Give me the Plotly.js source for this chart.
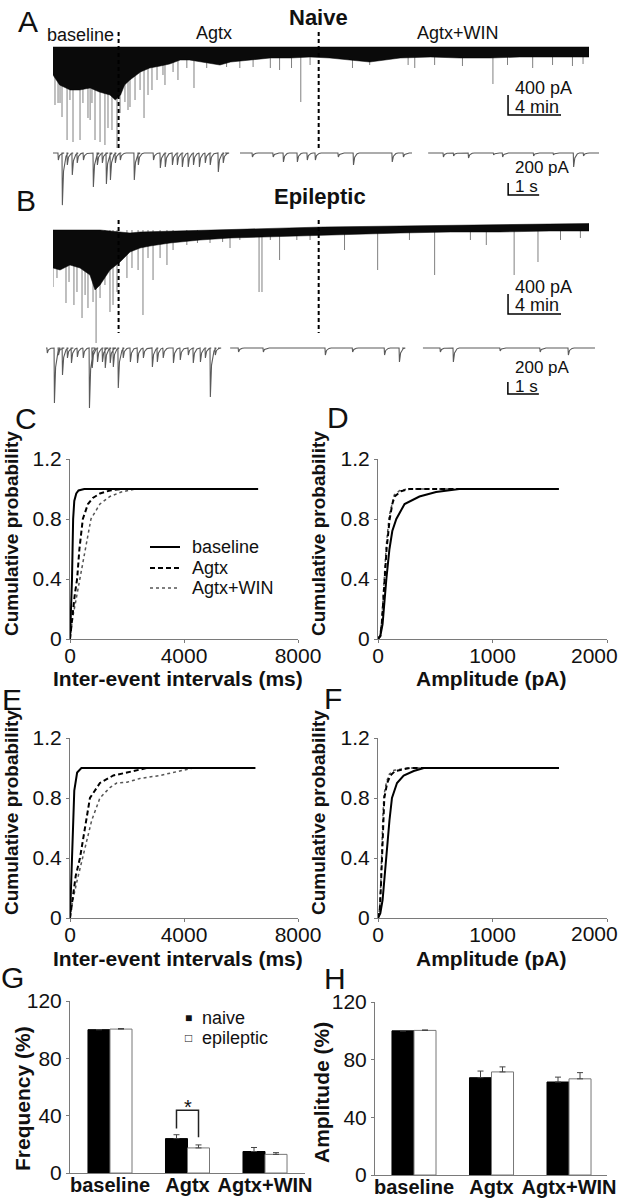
<!DOCTYPE html>
<html><head><meta charset="utf-8">
<script src="https://cdn.plot.ly/plotly-3.0.1.min.js"></script>
<style>html,body{margin:0;padding:0;background:#fff}</style>
</head><body><div id="fig" style="width:621px;height:1201px"></div>
<script>
// ---------------- DATA ----------------
// Panel A (naive) long recording: time (min), current (pA)
const A_band_t = [0,0.5,1.3,2.0,2.8,3.5,4.3,4.7,5.1,5.4,5.8,6.6,7.3,8.1,8.8,9.6,10.3,11.1,11.8,12.6,13.4,14.9,16.4,17.9,19.4,20.9,22.4,23.9,26.2,28.5,30.7,33.0,35.2,37.5,40.45];
const A_top    = [0,0,0,0,0,0,0,0,0,0,0,0,0,0,0,0,0,0,0,0,0,0,0,0,0,0,0,0,0,0,0,0,0,0,0];
const A_band   = [-560,-760,-860,-860,-820,-900,-960,-1060,-960,-760,-660,-500,-420,-380,-340,-260,-260,-300,-320,-360,-300,-260,-220,-220,-200,-220,-260,-300,-220,-200,-220,-220,-200,-200,-200];
const A_spike_t = [0.15,0.38,0.53,0.68,1.06,1.28,1.51,2.04,2.26,2.64,2.8,2.94,3.17,3.55,3.92,4.15,4.45,4.83,5.06,5.43,5.66,5.81,6.19,6.57,6.87,7.17,7.47,7.85,8.3,8.45,9.06,9.43,10.1,10.64,11.6,13.1,14.1,15.1,16.4,17.1,18.0,18.7,19.4,22.6,23.9,26.8,27.3,28.8,30.9,33.2,34.3,36.2,37.7,39.2,40.0];
const A_spike   = [-1160,-1120,-1120,-1400,-1860,-1060,-1900,-1860,-1120,-1420,-1460,-1120,-1860,-1900,-1960,-1620,-1660,-2020,-1320,-1100,-1260,-1200,-1060,-860,-1420,-960,-860,-660,-560,-760,-500,-660,-420,-820,-420,-400,-420,-400,-420,-460,-420,-1100,-360,-420,-360,-360,-420,-360,-380,-740,-360,-420,-360,-380,-340];
// Panel B (epileptic) long recording
const B_top_t = [0,3.55,4.3,5.06,5.81,6.57,9.58,13.36,20.4,26.2,33.7,40.45];
const B_top   = [0,0,-20,-40,-60,-40,-20,20,60,80,110,130];
const B_band_t = [0,0.53,1.28,2.04,2.79,3.17,3.55,4.3,5.06,5.81,6.57,7.32,8.83,11.09,13.36,15.6,18.6,20.9,26.2,30.0,33.7,37.5,40.45];
const B_band   = [-760,-800,-700,-760,-900,-1200,-1100,-800,-640,-440,-360,-320,-260,-200,-160,-140,-120,-100,-60,-40,-40,-20,-20];
const B_spike_t = [0,0.3,0.98,1.21,1.58,1.81,2.19,2.42,2.64,3.02,3.25,3.55,3.92,4.3,4.53,4.83,5.58,5.96,6.42,6.79,7.17,7.55,8.08,8.6,9.06,10.1,10.9,11.85,12.8,13.36,14.1,15.55,15.77,16.4,17.1,18.4,19.4,22.0,24.5,26.9,28.8,31.5,32.7,34.8,36.6,38.3,39.8];
const B_spike   = [-1140,-960,-1460,-1040,-1500,-1240,-1760,-1300,-1560,-1440,-2260,-1360,-1100,-1640,-1500,-1240,-960,-760,-800,-1700,-560,-1000,-560,-700,-400,-300,-260,-260,-240,-360,-200,-1240,-1240,-200,-600,-200,-200,-400,-800,-200,-900,-200,-300,-900,-640,-200,-160];
const drugTimes = [4.95, 20.05];          // min: Agtx, Agtx+WIN applied
const phaseLabels = ['baseline','Agtx','Agtx+WIN'];
// Expanded sweeps (s, pA) for each condition
const sA1_t = [0.16,0.29,0.45,0.61,0.77,0.97,1.29,1.42,1.58,1.71,1.84,2.0,2.16,2.61,2.74,3.23,3.45,3.61,3.84,4.0,4.16,4.35,4.52,4.71,4.9,5.06,5.32,5.48];
const sA1_a = [-117,-870,-200,-367,-167,-117,-568,-200,-167,-518,-451,-167,-117,-451,-200,-117,-250,-234,-200,-200,-234,-234,-200,-234,-167,-200,-317,-167];
const sA2_t = [0.39,1.06,1.39,1.84,2.16,2.42,3.16,3.65,4.9,5.26];
const sA2_a = [-67,-67,-150,-150,-117,-117,-67,-200,-150,-67];
const sA3_t = [0.48,0.81,1.29,2.1,2.39,3.39,4.03,4.68,5.0];
const sA3_a = [-67,-50,-84,-33,-67,-50,-33,-234,-50];
const sB1_t = [0.03,0.26,0.39,0.52,0.68,0.81,1.0,1.19,1.39,1.48,1.65,1.81,1.9,2.06,2.16,2.32,2.48,2.71,2.94,3.13,3.42,3.58,3.77,4.1,4.32,4.58,4.74,4.97,5.13,5.29,5.45];
const sB1_a = [-84,-919,-117,-451,-167,-250,-150,-167,-1002,-334,-234,-234,-334,-250,-317,-668,-167,-234,-250,-167,-317,-234,-167,-250,-200,-117,-250,-234,-167,-818,-117];
const sB2_t = [0.26,1.06,3.06,3.94,4.97,5.45];
const sB2_a = [-67,-67,-117,-67,-117,-234];
const sB3_t = [0.55,0.97,2.48,3.77,4.68];
const sB3_a = [-67,-234,-50,-67,-117];
const sweepLen = 5.55; // s
// Scale bars
const longBar = {pA:400, min:4}, shortBar = {pA:200, s:1};

// Cumulative distributions
const C_base_x = [0,40,70,90,110,150,220,300,500,6600];
const C_base_y = [0,0.2,0.4,0.6,0.8,0.92,0.97,0.99,1,1];
const C_agtx_x = [0,50,100,170,250,330,450,630,800,1050,1400,1800,6600];
const C_agtx_y = [0,0.1,0.2,0.3,0.4,0.6,0.8,0.9,0.94,0.97,0.99,1,1];
const C_win_x  = [0,100,200,350,525,735,1050,1400,1800,2300,6600];
const C_win_y  = [0,0.15,0.25,0.4,0.6,0.8,0.9,0.95,0.98,1,1];
const D_base_x = [0,20,40,55,73,100,125,160,232,362,507,710,1580];
const D_base_y = [0,0.02,0.1,0.25,0.4,0.6,0.72,0.8,0.9,0.95,0.98,1,1];
const D_agtx_x = [0,20,35,45,58,75,102,125,145,200,275,1580];
const D_agtx_y = [0,0.02,0.12,0.25,0.4,0.6,0.8,0.9,0.95,0.985,1,1];
const D_win_x  = [0,20,33,43,55,72,98,122,142,190,260,1580];
const D_win_y  = [0,0.03,0.13,0.27,0.42,0.62,0.82,0.91,0.96,0.99,1,1];
const E_base_x = [0,50,100,150,250,400,6500];
const E_base_y = [0,0.3,0.6,0.85,0.97,1,1];
const E_agtx_x = [0,100,200,350,525,700,1050,1520,2000,2700,6500];
const E_agtx_y = [0,0.15,0.28,0.4,0.6,0.8,0.9,0.95,0.97,1,1];
const E_win_x  = [0,100,250,450,610,760,1050,1400,1640,2000,2450,3150,3620,4330,6500];
const E_win_y  = [0,0.12,0.25,0.4,0.54,0.65,0.8,0.87,0.9,0.905,0.93,0.95,0.97,1,1];
const F_base_x = [0,20,40,60,85,100,122,166,224,312,400,1580];
const F_base_y = [0,0.03,0.12,0.3,0.54,0.65,0.8,0.9,0.95,0.98,1,1];
const F_agtx_x = [0,15,25,35,45,55,80,108,150,280,1580];
const F_agtx_y = [0,0.05,0.2,0.45,0.65,0.8,0.9,0.95,0.98,1,1];
const F_win_x  = [0,15,24,33,43,52,75,100,140,260,1580];
const F_win_y  = [0,0.06,0.22,0.48,0.68,0.82,0.91,0.96,0.985,1,1];
const curveNames = ['baseline','Agtx','Agtx+WIN'];
const ampTicks = [0,1000,2000];

// Bar charts (% of baseline)
const groups = ['baseline','Agtx','Agtx+WIN'];
const G_naive = [100, 24, 15];
const G_naive_err = [0, 2.7, 2.8];
const G_epi = [100.4, 17.5, 13];
const G_epi_err = [0.4, 2.1, 1.2];
const H_naive = [100, 67.5, 64.5];
const H_naive_err = [0, 4.6, 3.4];
const H_epi = [100.3, 71.5, 66.7];
const H_epi_err = [0.3, 3.5, 4.3];
const G_sigGroup = 1;  // Agtx naive vs epileptic, p<0.05

// ---------------- BUILD ----------------
const W=621,H=1201, FONT='Liberation Sans, Arial, Helvetica, sans-serif', AX='#7a7a7a';
const xd=(a,b)=>[a/W,b/W];
const yd=(t,b)=>[1-b/H,1-t/H];
const px=p=>p/W, py=p=>1-p/H;

function spikeXY(ts, vs){ const x=[],y=[]; ts.forEach((t,i)=>{x.push(t,t,null); y.push(0,vs[i],null);}); return {x,y}; }
function bandXY(tt, top, bt, bot){ return {x: tt.concat(bt.slice().reverse()), y: top.concat(bot.slice().reverse())}; }
function sweepXY(ts, vs, off){
  const x=[off], y=[0];
  ts.forEach((t,i)=>{ const a=vs[i]; x.push(off+t, off+t+0.012, off+t+0.05, off+t+0.13, off+t+0.2); y.push(0, a, a*0.35, a*0.06, 0); });
  x.push(off+sweepLen); y.push(0);
  return {x,y};
}
const traces=[];
function line(xy, xa, ya, color, width, dash){ traces.push({type:'scatter', mode:'lines', x:xy.x, y:xy.y, xaxis:xa, yaxis:ya, line:{color, width, dash:dash||'solid'}, hoverinfo:'skip', showlegend:false, connectgaps:false}); }

// A long trace
line(spikeXY(A_spike_t, A_spike), 'x','y', '#808080', 1);
let bA = bandXY(A_band_t, A_top, A_band_t, A_band);
traces.push({type:'scatter', mode:'lines', x:bA.x, y:bA.y, fill:'toself', fillcolor:'#0a0a0a', line:{color:'#000', width:0.5}, xaxis:'x', yaxis:'y', showlegend:false, hoverinfo:'skip'});
// B long trace
line(spikeXY(B_spike_t, B_spike), 'x3','y3', '#808080', 1);
let bB = bandXY(B_top_t, B_top, B_band_t, B_band);
traces.push({type:'scatter', mode:'lines', x:bB.x, y:bB.y, fill:'toself', fillcolor:'#0a0a0a', line:{color:'#000', width:0.5}, xaxis:'x3', yaxis:'y3', showlegend:false, hoverinfo:'skip'});
// drug application markers
drugTimes.forEach(t=>{
  line({x:[t,t], y:[300,-2020]}, 'x','y', '#000', 2, '4px,3px');
  line({x:[t,t], y:[200,-2060]}, 'x3','y3', '#000', 2, '4px,3px');
});
// scale bars long
const lbA = {t:34.34, y:-1360}, lbB = {t:34.34, y:-1680};
line({x:[lbA.t,lbA.t,lbA.t+longBar.min], y:[lbA.y+longBar.pA, lbA.y, lbA.y]}, 'x','y', '#000', 1.5);
line({x:[lbB.t,lbB.t,lbB.t+longBar.min], y:[lbB.y+longBar.pA, lbB.y, lbB.y]}, 'x3','y3', '#000', 1.5);
// sweeps
const offA=[0,6.03,12.1], offB=[0,5.94,12.16];
[[sA1_t,sA1_a],[sA2_t,sA2_a],[sA3_t,sA3_a]].forEach((s,i)=>line(sweepXY(s[0],s[1],offA[i]),'x2','y2','#5a5a5a',1.1));
[[sB1_t,sB1_a],[sB2_t,sB2_a],[sB3_t,sB3_a]].forEach((s,i)=>line(sweepXY(s[0],s[1],offB[i]),'x4','y4','#5a5a5a',1.1));
const sbA={t:14.68,y:-701}, sbB={t:14.9,y:-768};
line({x:[sbA.t,sbA.t,sbA.t+shortBar.s], y:[sbA.y+shortBar.pA, sbA.y, sbA.y]}, 'x2','y2', '#000', 1.5);
line({x:[sbB.t,sbB.t,sbB.t+shortBar.s], y:[sbB.y+shortBar.pA, sbB.y, sbB.y]}, 'x4','y4', '#000', 1.5);

// CDFs
const styles=[{color:'#000',width:2,dash:'solid'},{color:'#000',width:2,dash:'5px,3px'},{color:'#555',width:1.5,dash:'dot'}];
const cdfs=[
  ['x5','y5',[[C_base_x,C_base_y],[C_agtx_x,C_agtx_y],[C_win_x,C_win_y]]],
  ['x6','y6',[[D_base_x,D_base_y],[D_agtx_x,D_agtx_y],[D_win_x,D_win_y]]],
  ['x7','y7',[[E_base_x,E_base_y],[E_agtx_x,E_agtx_y],[E_win_x,E_win_y]]],
  ['x8','y8',[[F_base_x,F_base_y],[F_agtx_x,F_agtx_y],[F_win_x,F_win_y]]]];
cdfs.forEach(([xa,ya,sets])=>{ [2,1,0].forEach(k=>{ traces.push({type:'scatter',mode:'lines',x:sets[k][0],y:sets[k][1],xaxis:xa,yaxis:ya,line:styles[k],name:curveNames[k],showlegend:false,hoverinfo:'skip'}); }); });

// Bars
const gx=groups.map((g,i)=>i);
function bars(xa,ya,vals,errs,fill,lc,name){
  traces.push({type:'bar', x:gx, y:vals, xaxis:xa, yaxis:ya, name, marker:{color:fill, line:{color:lc,width:1}},
    error_y:{type:'data', symmetric:false, array:errs, arrayminus:errs.map(()=>0), color:'#444', thickness:1, width:3}, showlegend:false, hoverinfo:'skip'});
}
bars('x9','y9',G_naive,G_naive_err,'#000','#000','naive');
bars('x9','y9',G_epi,G_epi_err,'#fff','#777','epileptic');
bars('x10','y10',H_naive,H_naive_err,'#000','#000','naive');
bars('x10','y10',H_epi,H_epi_err,'#fff','#777','epileptic');

// ---------------- LAYOUT ----------------
const hid={visible:false, fixedrange:true};
const tf={size:21,color:'#111',family:FONT};
function cax(dom, rng, tv, anchor, sx, tt){ return {domain:dom, range:rng, anchor, showline:true, linecolor:AX, linewidth:1, ticks:'outside', ticklen:3, tickcolor:AX, tickwidth:1, tickmode:'array', tickvals:tv, ticktext:tt||tv.map(String), tickfont:tf, ticklabelstandoff:(sx||0), ticklabeloverflow:'allow', showgrid:false, zeroline:false, fixedrange:true}; }
// last amplitude tick label is placed flush with the right edge (as in the reference)
const ampTickText = ampTicks.map((v,i)=> i===ampTicks.length-1 ? '' : String(v));
const layout={width:W,height:H,margin:{l:0,r:0,t:0,b:0},paper_bgcolor:'#fff',plot_bgcolor:'rgba(0,0,0,0)',showlegend:false,
  font:{family:FONT,color:'#111'}, barmode:'group', bargap:0.432, bargroupgap:0,
  xaxis:{...hid,domain:xd(53,589),range:[0,40.45],anchor:'y'},
  yaxis:{...hid,domain:yd(30,170),range:[-2460,340],anchor:'x'},
  xaxis2:{...hid,domain:xd(53,599),range:[0,17.61],anchor:'y2'},
  yaxis2:{...hid,domain:yd(140,215),range:[-1035,217],anchor:'x2'},
  xaxis3:{...hid,domain:xd(53,589),range:[0,40.45],anchor:'y3'},
  yaxis3:{...hid,domain:yd(215,350),range:[-2400,300],anchor:'x3'},
  xaxis4:{...hid,domain:xd(46,599),range:[0,17.84],anchor:'y4'},
  yaxis4:{...hid,domain:yd(335,415),range:[-1119,217],anchor:'x4'},
  xaxis5:cax(xd(70,298),[0,8000],[0,4000,8000],'y5',-5),
  yaxis5:cax(yd(459,639),[0,1.2],[0,0.4,0.8,1.2],'x5'),
  xaxis6:cax(xd(378,607),[0,2000],ampTicks,'y6',-5,ampTickText),
  yaxis6:cax(yd(459,639),[0,1.2],[0,0.4,0.8,1.2],'x6'),
  xaxis7:cax(xd(70,298),[0,8000],[0,4000,8000],'y7',-5),
  yaxis7:cax(yd(738,918),[0,1.2],[0,0.4,0.8,1.2],'x7'),
  xaxis8:cax(xd(378,607),[0,2000],ampTicks,'y8',-5,ampTickText),
  yaxis8:cax(yd(738,918),[0,1.2],[0,0.4,0.8,1.2],'x8'),
  yaxis9:cax(yd(1001,1173),[0,120],[0,40,80,120],'x9'),
  yaxis10:cax(yd(1002,1175),[0,120],[0,40,80,120],'x10'),
};
function bx(dom,rng,anchor){ return {domain:dom, range:rng, anchor, showline:true, linecolor:AX, linewidth:1, ticks:'', tickmode:'array', tickvals:gx, ticktext:groups, tickfont:{size:20,color:'#111',family:FONT,weight:'bold'}, ticklabelstandoff:-6, ticklabeloverflow:'allow', showgrid:false, zeroline:false, fixedrange:true}; }
layout.xaxis9=bx(xd(70,305),[-0.516,2.516],'y9');
layout.xaxis10=bx(xd(375,607),[-0.503,2.49],'y10');

const anns=[];
function ann(text,x,y,size,o){ anns.push(Object.assign({text, x:px(x), y:py(y), xref:'paper', yref:'paper', showarrow:false, font:{size, color:'#111', family:FONT}, xanchor:'center', yanchor:'middle'}, o||{})); }
function dann(text,x,y,xr,yr,size,o){ anns.push(Object.assign({text, x, y, xref:xr, yref:yr, showarrow:false, font:{size,color:'#111',family:FONT}, xanchor:'left', yanchor:'middle'}, o||{})); }
// edge tick labels for amplitude axes
ann(String(ampTicks[ampTicks.length-1]),620,655,21,{xanchor:'right'});
ann(String(ampTicks[ampTicks.length-1]),620,934,21,{xanchor:'right'});
// panel letters
[['A',28,21],['B',26,200],['C',26,418],['D',338,417],['E',12,700],['F',333,698],['G',12,977],['H',335,978]].forEach(l=>ann(l[0],l[1],l[2],30));
ann('<b>Naive</b>',319,17,22); ann('<b>Epileptic</b>',320,197,22);
ann(phaseLabels[0],80,35,18); ann(phaseLabels[1],214,33,18); ann(phaseLabels[2],458,33,18);
// scale bar labels
dann(longBar.pA+' pA', 34.7, -820, 'x','y',18); dann(longBar.min+' min', 34.7, -1200,'x','y',18);
dann(longBar.pA+' pA', 34.7, -1140, 'x3','y3',18); dann(longBar.min+' min', 34.7, -1500,'x3','y3',18);
dann(shortBar.pA+' pA', 14.84, -250, 'x2','y2',17); dann(shortBar.s+' s', 14.84, -560, 'x2','y2',17);
dann(shortBar.pA+' pA', 15.06, -334, 'x4','y4',17); dann(shortBar.s+' s', 15.06, -635, 'x4','y4',17);
// axis titles
ann('<b>Cumulative probability</b>',11,534,19,{textangle:-90});
ann('<b>Cumulative probability</b>',318,534,19,{textangle:-90});
ann('<b>Cumulative probability</b>',11,813,19,{textangle:-90});
ann('<b>Cumulative probability</b>',318,813,19,{textangle:-90});
ann('<b>Inter-event intervals (ms)</b>',178,678,21);
ann('<b>Amplitude (pA)</b>',491,678,21);
ann('<b>Inter-event intervals (ms)</b>',178,958,21);
ann('<b>Amplitude (pA)</b>',491,958,21);
ann('<b>Frequency (%)</b>',22,1099,21,{textangle:-90});
ann('<b>Amplitude (%)</b>',321,1093,21,{textangle:-90});
// C legend
const shapes=[];
[547,568,588].forEach((yy,k)=>{
  shapes.push({type:'line', xref:'paper', yref:'paper', x0:px(150), x1:px(180), y0:py(yy), y1:py(yy), line:styles[k]});
  ann(curveNames[k],190,yy,18,{xanchor:'left'});
});
// G legend
ann('■',188,1018,12); ann('naive',200,1018,18,{xanchor:'left'});
ann('□',188,1038,12); ann('epileptic',200,1038,18,{xanchor:'left'});
// significance bracket
const bo=0.142, sg=G_sigGroup;
shapes.push({type:'path', xref:'x9', yref:'y9', path:`M${sg-bo},31 L${sg-bo},43.8 L${sg+bo},43.8 L${sg+bo},25`, line:{color:'#222',width:1.5}});
anns.push({text:'*', x:sg, y:46, xref:'x9', yref:'y9', showarrow:false, font:{size:20,color:'#111',family:FONT}, xanchor:'center', yanchor:'middle'});
layout.annotations=anns; layout.shapes=shapes;

Plotly.newPlot('fig', traces, layout, {staticPlot:true, displayModeBar:false});
</script></body></html>
